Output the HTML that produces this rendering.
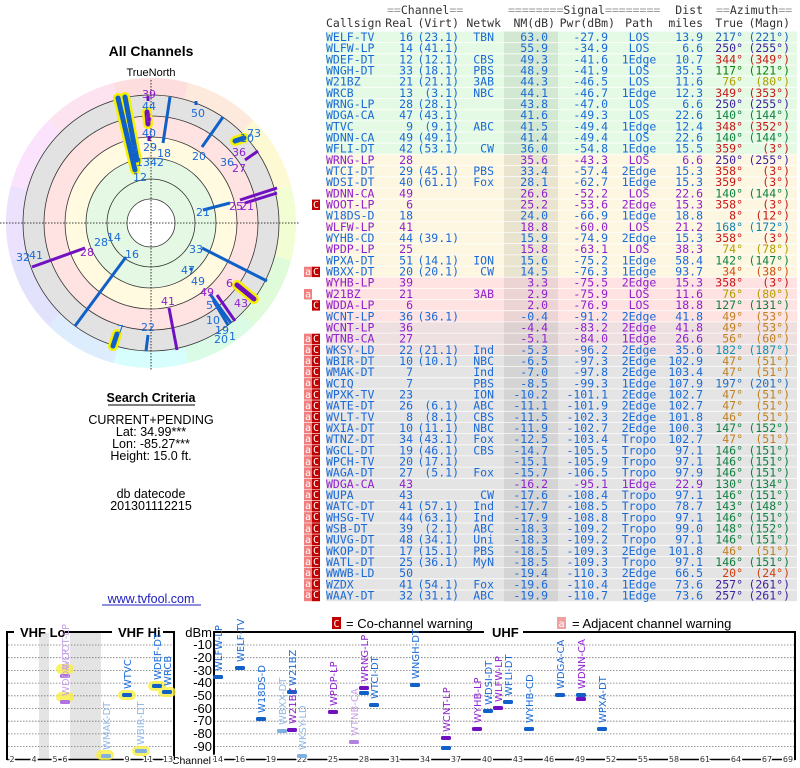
<!DOCTYPE html>
<html><head><meta charset="utf-8"><style>
html,body{margin:0;padding:0;background:#fff;width:800px;height:768px;overflow:hidden}
svg{display:block}
.t text{font-family:"DejaVu Sans Mono",monospace;font-size:11.5px}
.e{text-anchor:end}.m{text-anchor:middle}
.b{fill:#1a6ad8}.p{fill:#9020d0}
.s{font-family:"Liberation Sans",sans-serif}
.pl text{font-family:"DejaVu Sans",sans-serif;font-size:11px}
.bl text{font-family:"DejaVu Sans",sans-serif;font-size:10px}
.ax text{font-family:"Liberation Sans",sans-serif;font-size:13px;text-anchor:end;fill:#000}
.ch text{font-family:"DejaVu Sans",sans-serif;font-size:8px;text-anchor:middle;fill:#333;stroke:#fff;stroke-width:3px;paint-order:stroke}
</style></head><body>
<svg width="800" height="768" viewBox="0 0 800 768" xmlns="http://www.w3.org/2000/svg">
<!-- Left titles -->
<text x="151" y="56" class="s m" font-size="14" font-weight="bold">All Channels</text>
<text x="151" y="76" class="s m" font-size="11">TrueNorth</text>

<!-- Polar plot -->
<g>
<g fill="none" stroke-width="17" stroke-dasharray="71.5 786.2">
<circle cx="151" cy="223" r="136.5" stroke="hsl(0,90%,93%)" transform="rotate(-105 151 223)"/>
<circle cx="151" cy="223" r="136.5" stroke="hsl(25,90%,93%)" transform="rotate(-75 151 223)"/>
<circle cx="151" cy="223" r="136.5" stroke="hsl(55,90%,91%)" transform="rotate(-45 151 223)"/>
<circle cx="151" cy="223" r="136.5" stroke="hsl(75,90%,91%)" transform="rotate(-15 151 223)"/>
<circle cx="151" cy="223" r="136.5" stroke="hsl(110,80%,92%)" transform="rotate(15 151 223)"/>
<circle cx="151" cy="223" r="136.5" stroke="hsl(140,80%,92%)" transform="rotate(45 151 223)"/>
<circle cx="151" cy="223" r="136.5" stroke="hsl(180,90%,92%)" transform="rotate(75 151 223)"/>
<circle cx="151" cy="223" r="136.5" stroke="hsl(210,90%,93%)" transform="rotate(105 151 223)"/>
<circle cx="151" cy="223" r="136.5" stroke="hsl(240,90%,94%)" transform="rotate(135 151 223)"/>
<circle cx="151" cy="223" r="136.5" stroke="hsl(265,90%,94%)" transform="rotate(165 151 223)"/>
<circle cx="151" cy="223" r="136.5" stroke="hsl(295,90%,94%)" transform="rotate(195 151 223)"/>
<circle cx="151" cy="223" r="136.5" stroke="hsl(330,90%,94%)" transform="rotate(225 151 223)"/>
</g>
<circle cx="151" cy="223" r="128" fill="#e2e2e2" stroke="#333" stroke-width="0.8"/>
<circle cx="151" cy="223" r="107" fill="#ffe2e2" stroke="#333" stroke-width="0.8"/>
<circle cx="151" cy="223" r="86" fill="#fffae0" stroke="#333" stroke-width="0.8"/>
<circle cx="151" cy="223" r="65" fill="#e4f8e4" stroke="#333" stroke-width="0.8"/>
<circle cx="151" cy="223" r="44" fill="#e4f8e4" stroke="#333" stroke-width="0.8"/>
<circle cx="151" cy="223" r="24" fill="#fff" stroke="#333" stroke-width="0.8"/>
<line x1="0" y1="223" x2="300" y2="223" stroke="#000" stroke-width="0.8" stroke-dasharray="1.5 1.5"/>
<line x1="151" y1="80" x2="151" y2="370" stroke="#000" stroke-width="0.8" stroke-dasharray="1.5 1.5"/>
<!-- VHF thick -->
<g stroke="#f4f000" stroke-linecap="round" stroke-width="10">
<line x1="118" y1="98" x2="135" y2="170"/><line x1="125" y1="97" x2="137" y2="160"/>
<line x1="117" y1="334" x2="113" y2="346"/><line x1="237" y1="285" x2="254" y2="299"/>
<line x1="235" y1="141" x2="244" y2="138"/><line x1="147" y1="112" x2="148" y2="124"/>
</g>
<g stroke-linecap="round" stroke-width="5">
<line x1="118" y1="98" x2="135" y2="170" stroke="#1060c8"/><line x1="125" y1="97" x2="137" y2="160" stroke="#1060c8"/>
<line x1="117" y1="334" x2="113" y2="346" stroke="#1060c8"/><line x1="237" y1="285" x2="254" y2="299" stroke="#7010c0"/>
<line x1="235" y1="141" x2="244" y2="138" stroke="#1060c8"/><line x1="147" y1="112" x2="148" y2="124" stroke="#7010c0"/>
</g>
<g stroke-width="3">
<line x1="148" y1="96" x2="148" y2="101" stroke="#7010c0"/><line x1="149" y1="136" x2="149" y2="141" stroke="#7010c0"/>
<line x1="170" y1="97" x2="163" y2="143" stroke="#1060c8"/>
<line x1="223" y1="117" x2="202" y2="147" stroke="#1060c8"/>
<line x1="196" y1="101" x2="196" y2="105" stroke="#1060c8"/>
<line x1="258" y1="151" x2="245" y2="160" stroke="#7010c0"/>
<line x1="277" y1="188" x2="240" y2="200" stroke="#7010c0"/><line x1="277" y1="193" x2="245" y2="203" stroke="#7010c0"/>
<line x1="230" y1="203" x2="203" y2="210" stroke="#1060c8"/>
<line x1="267" y1="281" x2="202" y2="248" stroke="#1060c8"/>
<line x1="210" y1="294" x2="231" y2="323" stroke="#1060c8"/><line x1="217" y1="295" x2="235" y2="321" stroke="#7010c0"/>
<line x1="213" y1="300" x2="228" y2="325" stroke="#1060c8"/>
<line x1="169" y1="308" x2="177" y2="350" stroke="#7010c0"/>
<line x1="148" y1="335" x2="146" y2="351" stroke="#1060c8"/>
<line x1="126" y1="257" x2="75" y2="326" stroke="#1060c8"/>
<line x1="85" y1="248" x2="32" y2="267" stroke="#7010c0"/>
<line x1="190" y1="268" x2="192" y2="270" stroke="#1060c8"/>
</g>
<g class="pl">
<text x="142" y="98" fill="#9020d0">39</text><text x="142" y="110" fill="#1a6ad8">44</text>
<text x="145" y="122" fill="#9020d0">6</text><text x="142" y="137" fill="#1a6ad8">40</text>
<text x="143" y="151" fill="#1a6ad8">29</text><text x="131" y="153" fill="#1a6ad8">9</text>
<text x="136" y="166" fill="#1a6ad8">1342</text><text x="133" y="181" fill="#1a6ad8">12</text>
<text x="157" y="157" fill="#1a6ad8">18</text><text x="191" y="117" fill="#1a6ad8">50</text>
<text x="192" y="160" fill="#1a6ad8">20</text>
<text x="240" y="142" fill="#1a6ad8">10</text><text x="247" y="137" fill="#1a6ad8">73</text>
<text x="232" y="156" fill="#9020d0">36</text><text x="220" y="166" fill="#1a6ad8">36</text>
<text x="232" y="172" fill="#9020d0">27</text>
<text x="229" y="210" fill="#9020d0">25</text><text x="240" y="210" fill="#9020d0">21</text>
<text x="196" y="216" fill="#1a6ad8">21</text><text x="189" y="253" fill="#1a6ad8">33</text>
<text x="181" y="274" fill="#1a6ad8">47</text><text x="191" y="285" fill="#1a6ad8">49</text>
<text x="200" y="296" fill="#9020d0">49</text><text x="206" y="309" fill="#1a6ad8">51</text>
<text x="206" y="324" fill="#1a6ad8">10</text><text x="215" y="334" fill="#1a6ad8">19</text>
<text x="214" y="343" fill="#1a6ad8">20</text><text x="229" y="340" fill="#1a6ad8">1</text>
<text x="226" y="287" fill="#9020d0">6</text><text x="234" y="307" fill="#9020d0">43</text>
<text x="161" y="305" fill="#9020d0">41</text><text x="141" y="331" fill="#1a6ad8">22</text>
<text x="117" y="333" fill="#1a6ad8">7</text><text x="125" y="258" fill="#1a6ad8">16</text>
<text x="80" y="256" fill="#9020d0">28</text><text x="94" y="246" fill="#1a6ad8">28</text>
<text x="107" y="241" fill="#1a6ad8">14</text>
<text x="16" y="261" fill="#1a6ad8">32</text><text x="29" y="259" fill="#1a6ad8">41</text>
</g>
</g>

<!-- Search criteria -->
<g class="s" font-size="12.5" text-anchor="middle" fill="#000">
<text x="151" y="402" font-weight="bold">Search Criteria</text>
<line x1="108" y1="405" x2="195" y2="405" stroke="#000" stroke-width="1"/>
<text x="151" y="424">CURRENT+PENDING</text>
<text x="151" y="436">Lat: 34.99***</text>
<text x="151" y="448">Lon: -85.27***</text>
<text x="151" y="460">Height: 15.0 ft.</text>
<text x="151" y="498">db datecode</text>
<text x="151" y="510">201301112215</text>
<text x="151" y="603" fill="#2020c0">www.tvfool.com</text>
<line x1="102" y1="605" x2="201" y2="605" stroke="#2020c0" stroke-width="1"/>
</g>

<!-- Table backgrounds -->
<rect x="326" y="31.5" width="471" height="122.9" fill="#e4fae4"/>
<rect x="326" y="154.4" width="471" height="122.8" fill="#fdf7e2"/>
<rect x="326" y="277.2" width="471" height="44.7" fill="#ffe2e2"/>
<rect x="326" y="321.9" width="471" height="33.5" fill="#eee0e0"/>
<rect x="326" y="355.4" width="471" height="245.8" fill="#e4e4e4"/>
<rect x="504" y="31.5" width="54" height="122.9" fill="#d2e8d2"/>
<rect x="504" y="154.4" width="54" height="122.8" fill="#e8e4d0"/>
<rect x="504" y="277.2" width="54" height="44.7" fill="#ecd4d4"/>
<rect x="504" y="321.9" width="54" height="33.5" fill="#dcd0d0"/>
<rect x="504" y="355.4" width="54" height="245.8" fill="#d4d4d4"/>
<g stroke="#fff" stroke-width="0.8" opacity="0.9">
<path d="M326 42.7H797M326 53.8H797M326 65H797M326 76.2H797M326 87.3H797M326 98.5H797M326 109.7H797M326 120.9H797M326 132H797M326 143.2H797M326 154.4H797M326 165.5H797M326 176.7H797M326 187.9H797M326 199H797M326 210.2H797M326 221.4H797M326 232.6H797M326 243.7H797M326 254.9H797M326 266.1H797M326 277.2H797M326 288.4H797M326 299.6H797M326 310.7H797M326 321.9H797M326 333.1H797M326 344.3H797M326 355.4H797M326 366.6H797M326 377.8H797M326 388.9H797M326 400.1H797M326 411.3H797M326 422.4H797M326 433.6H797M326 444.8H797M326 455.9H797M326 467.1H797M326 478.3H797M326 489.5H797M326 500.6H797M326 511.8H797M326 523H797M326 534.1H797M326 545.3H797M326 556.5H797M326 567.6H797M326 578.8H797M326 590H797"/>
</g>

<!-- Badges -->
<g font-family="DejaVu Sans Mono,monospace" font-size="10" fill="#fff" text-anchor="middle">
<rect x="312" y="199.6" width="8" height="10.4" fill="#c00000"/><text x="316" y="208">C</text>
<rect x="304" y="266.7" width="8" height="10.4" fill="#f08080"/><text x="308" y="275">a</text>
<rect x="312" y="266.7" width="8" height="10.4" fill="#c00000"/><text x="316" y="275">C</text>
<rect x="304" y="289" width="8" height="10.4" fill="#f08080"/><text x="308" y="297.5">a</text>
<rect x="312" y="300.2" width="8" height="10.4" fill="#c00000"/><text x="316" y="308.7">C</text>
<rect x="304" y="333.7" width="8" height="267.5" fill="#f08080"/>
<rect x="312" y="333.7" width="8" height="267.5" fill="#c00000"/>
<g stroke="#fff" stroke-width="0.6"><path d="M304 344.3H320M304 355.4H320M304 366.6H320M304 377.8H320M304 388.9H320M304 400.1H320M304 411.3H320M304 422.4H320M304 433.6H320M304 444.8H320M304 455.9H320M304 467.1H320M304 478.3H320M304 489.5H320M304 500.6H320M304 511.8H320M304 523H320M304 534.1H320M304 545.3H320M304 556.5H320M304 567.6H320M304 578.8H320M304 590H320"/></g>
<text x="308" y="342">a</text><text x="316" y="342">C</text><text x="308" y="353">a</text><text x="316" y="353">C</text>
<text x="308" y="364">a</text><text x="316" y="364">C</text><text x="308" y="375">a</text><text x="316" y="375">C</text>
<text x="308" y="386">a</text><text x="316" y="386">C</text><text x="308" y="398">a</text><text x="316" y="398">C</text>
<text x="308" y="409">a</text><text x="316" y="409">C</text><text x="308" y="420">a</text><text x="316" y="420">C</text>
<text x="308" y="431">a</text><text x="316" y="431">C</text><text x="308" y="442">a</text><text x="316" y="442">C</text>
<text x="308" y="453">a</text><text x="316" y="453">C</text><text x="308" y="465">a</text><text x="316" y="465">C</text>
<text x="308" y="476">a</text><text x="316" y="476">C</text><text x="308" y="487">a</text><text x="316" y="487">C</text>
<text x="308" y="498">a</text><text x="316" y="498">C</text><text x="308" y="509">a</text><text x="316" y="509">C</text>
<text x="308" y="520">a</text><text x="316" y="520">C</text><text x="308" y="532">a</text><text x="316" y="532">C</text>
<text x="308" y="543">a</text><text x="316" y="543">C</text><text x="308" y="554">a</text><text x="316" y="554">C</text>
<text x="308" y="565">a</text><text x="316" y="565">C</text><text x="308" y="576">a</text><text x="316" y="576">C</text>
<text x="308" y="587">a</text><text x="316" y="587">C</text><text x="308" y="598">a</text><text x="316" y="598">C</text>
</g>

<!-- Table text -->
<g class="t">
<g fill="#333">
<text x="387" y="14" fill="#999">==<tspan fill="#333">Channel</tspan>==</text>
<text x="508" y="14" fill="#999">========<tspan fill="#333">Signal</tspan>========</text>
<text x="703" y="14" class="e">Dist</text>
<text x="716" y="14" fill="#999">==<tspan fill="#333">Azimuth</tspan>==</text>
<text x="326" y="27">Callsign</text><text x="413" y="27" class="e">Real</text><text x="459" y="27" class="e">(Virt)</text>
<text x="501" y="27" class="e">Netwk</text><text x="555" y="27" class="e">NM(dB)</text><text x="615" y="27" class="e">Pwr(dBm)</text>
<text x="639" y="27" class="m">Path</text><text x="703" y="27" class="e">miles</text><text x="743" y="27" class="e">True</text><text x="790" y="27" class="e">(Magn)</text>
</g>
<g transform="translate(0,41)" class="b"><text x="326">WELF-TV</text><text x="413" class="e">16</text><text x="459" class="e">(23.1)</text><text x="494" class="e">TBN</text><text x="548" class="e">63.0</text><text x="608" class="e">-27.9</text><text x="639" class="m">LOS</text><text x="703" class="e">13.9</text><text x="743" class="e" fill="#2060c0">217°</text><text x="790" class="e" fill="#2060c0">(221°)</text></g>
<g transform="translate(0,52.2)" class="b"><text x="326">WLFW-LP</text><text x="413" class="e">14</text><text x="459" class="e">(41.1)</text><text x="548" class="e">55.9</text><text x="608" class="e">-34.9</text><text x="639" class="m">LOS</text><text x="703" class="e">6.6</text><text x="743" class="e" fill="#4020a0">250°</text><text x="790" class="e" fill="#4020a0">(255°)</text></g>
<g transform="translate(0,63.3)" class="b"><text x="326">WDEF-DT</text><text x="413" class="e">12</text><text x="459" class="e">(12.1)</text><text x="494" class="e">CBS</text><text x="548" class="e">49.3</text><text x="608" class="e">-41.6</text><text x="639" class="m">1Edge</text><text x="703" class="e">10.7</text><text x="743" class="e" fill="#c81818">344°</text><text x="790" class="e" fill="#c81818">(349°)</text></g>
<g transform="translate(0,74.5)" class="b"><text x="326">WNGH-DT</text><text x="413" class="e">33</text><text x="459" class="e">(18.1)</text><text x="494" class="e">PBS</text><text x="548" class="e">48.9</text><text x="608" class="e">-41.9</text><text x="639" class="m">LOS</text><text x="703" class="e">35.5</text><text x="743" class="e" fill="#108010">117°</text><text x="790" class="e" fill="#108010">(121°)</text></g>
<g transform="translate(0,85.7)" class="b"><text x="326">W21BZ</text><text x="413" class="e">21</text><text x="459" class="e">(21.1)</text><text x="494" class="e">3AB</text><text x="548" class="e">44.3</text><text x="608" class="e">-46.5</text><text x="639" class="m">LOS</text><text x="703" class="e">11.6</text><text x="743" class="e" fill="#b0a000">76°</text><text x="790" class="e" fill="#b0a000">(80°)</text></g>
<g transform="translate(0,96.9)" class="b"><text x="326">WRCB</text><text x="413" class="e">13</text><text x="459" class="e">(3.1)</text><text x="494" class="e">NBC</text><text x="548" class="e">44.1</text><text x="608" class="e">-46.7</text><text x="639" class="m">1Edge</text><text x="703" class="e">12.3</text><text x="743" class="e" fill="#c81818">349°</text><text x="790" class="e" fill="#c81818">(353°)</text></g>
<g transform="translate(0,108)" class="b"><text x="326">WRNG-LP</text><text x="413" class="e">28</text><text x="459" class="e">(28.1)</text><text x="548" class="e">43.8</text><text x="608" class="e">-47.0</text><text x="639" class="m">LOS</text><text x="703" class="e">6.6</text><text x="743" class="e" fill="#4020a0">250°</text><text x="790" class="e" fill="#4020a0">(255°)</text></g>
<g transform="translate(0,119.2)" class="b"><text x="326">WDGA-CA</text><text x="413" class="e">47</text><text x="459" class="e">(43.1)</text><text x="548" class="e">41.6</text><text x="608" class="e">-49.3</text><text x="639" class="m">LOS</text><text x="703" class="e">22.6</text><text x="743" class="e" fill="#108040">140°</text><text x="790" class="e" fill="#108040">(144°)</text></g>
<g transform="translate(0,130.4)" class="b"><text x="326">WTVC</text><text x="413" class="e">9</text><text x="459" class="e">(9.1)</text><text x="494" class="e">ABC</text><text x="548" class="e">41.5</text><text x="608" class="e">-49.4</text><text x="639" class="m">1Edge</text><text x="703" class="e">12.4</text><text x="743" class="e" fill="#c81818">348°</text><text x="790" class="e" fill="#c81818">(352°)</text></g>
<g transform="translate(0,141.5)" class="b"><text x="326">WDNN-CA</text><text x="413" class="e">49</text><text x="459" class="e">(49.1)</text><text x="548" class="e">41.4</text><text x="608" class="e">-49.4</text><text x="639" class="m">LOS</text><text x="703" class="e">22.6</text><text x="743" class="e" fill="#108040">140°</text><text x="790" class="e" fill="#108040">(144°)</text></g>
<g transform="translate(0,152.7)" class="b"><text x="326">WFLI-DT</text><text x="413" class="e">42</text><text x="459" class="e">(53.1)</text><text x="494" class="e">CW</text><text x="548" class="e">36.0</text><text x="608" class="e">-54.8</text><text x="639" class="m">1Edge</text><text x="703" class="e">15.5</text><text x="743" class="e" fill="#c81818">359°</text><text x="790" class="e" fill="#c81818">(3°)</text></g>
<g transform="translate(0,163.9)" class="p"><text x="326">WRNG-LP</text><text x="413" class="e">28</text><text x="548" class="e">35.6</text><text x="608" class="e">-43.3</text><text x="639" class="m">LOS</text><text x="703" class="e">6.6</text><text x="743" class="e" fill="#4020a0">250°</text><text x="790" class="e" fill="#4020a0">(255°)</text></g>
<g transform="translate(0,175)" class="b"><text x="326">WTCI-DT</text><text x="413" class="e">29</text><text x="459" class="e">(45.1)</text><text x="494" class="e">PBS</text><text x="548" class="e">33.4</text><text x="608" class="e">-57.4</text><text x="639" class="m">2Edge</text><text x="703" class="e">15.3</text><text x="743" class="e" fill="#c81818">358°</text><text x="790" class="e" fill="#c81818">(3°)</text></g>
<g transform="translate(0,186.2)" class="b"><text x="326">WDSI-DT</text><text x="413" class="e">40</text><text x="459" class="e">(61.1)</text><text x="494" class="e">Fox</text><text x="548" class="e">28.1</text><text x="608" class="e">-62.7</text><text x="639" class="m">1Edge</text><text x="703" class="e">15.3</text><text x="743" class="e" fill="#c81818">359°</text><text x="790" class="e" fill="#c81818">(3°)</text></g>
<g transform="translate(0,197.4)" class="p"><text x="326">WDNN-CA</text><text x="413" class="e">49</text><text x="548" class="e">26.6</text><text x="608" class="e">-52.2</text><text x="639" class="m">LOS</text><text x="703" class="e">22.6</text><text x="743" class="e" fill="#108040">140°</text><text x="790" class="e" fill="#108040">(144°)</text></g>
<g transform="translate(0,208.6)" class="p"><text x="326">WOOT-LP</text><text x="413" class="e">6</text><text x="548" class="e">25.2</text><text x="608" class="e">-53.6</text><text x="639" class="m">2Edge</text><text x="703" class="e">15.3</text><text x="743" class="e" fill="#c81818">358°</text><text x="790" class="e" fill="#c81818">(3°)</text></g>
<g transform="translate(0,219.7)" class="b"><text x="326">W18DS-D</text><text x="413" class="e">18</text><text x="548" class="e">24.0</text><text x="608" class="e">-66.9</text><text x="639" class="m">1Edge</text><text x="703" class="e">18.8</text><text x="743" class="e" fill="#c81818">8°</text><text x="790" class="e" fill="#c81818">(12°)</text></g>
<g transform="translate(0,230.9)" class="p"><text x="326">WLFW-LP</text><text x="413" class="e">41</text><text x="548" class="e">18.8</text><text x="608" class="e">-60.0</text><text x="639" class="m">LOS</text><text x="703" class="e">21.2</text><text x="743" class="e" fill="#1080b0">168°</text><text x="790" class="e" fill="#1080b0">(172°)</text></g>
<g transform="translate(0,242.1)" class="b"><text x="326">WYHB-CD</text><text x="413" class="e">44</text><text x="459" class="e">(39.1)</text><text x="548" class="e">15.9</text><text x="608" class="e">-74.9</text><text x="639" class="m">2Edge</text><text x="703" class="e">15.3</text><text x="743" class="e" fill="#c81818">358°</text><text x="790" class="e" fill="#c81818">(3°)</text></g>
<g transform="translate(0,253.2)" class="p"><text x="326">WPDP-LP</text><text x="413" class="e">25</text><text x="548" class="e">15.8</text><text x="608" class="e">-63.1</text><text x="639" class="m">LOS</text><text x="703" class="e">38.3</text><text x="743" class="e" fill="#b0a000">74°</text><text x="790" class="e" fill="#b0a000">(78°)</text></g>
<g transform="translate(0,264.4)" class="b"><text x="326">WPXA-DT</text><text x="413" class="e">51</text><text x="459" class="e">(14.1)</text><text x="494" class="e">ION</text><text x="548" class="e">15.6</text><text x="608" class="e">-75.2</text><text x="639" class="m">1Edge</text><text x="703" class="e">58.4</text><text x="743" class="e" fill="#108040">142°</text><text x="790" class="e" fill="#108040">(147°)</text></g>
<g transform="translate(0,275.6)" class="b"><text x="326">WBXX-DT</text><text x="413" class="e">20</text><text x="459" class="e">(20.1)</text><text x="494" class="e">CW</text><text x="548" class="e">14.5</text><text x="608" class="e">-76.3</text><text x="639" class="m">1Edge</text><text x="703" class="e">93.7</text><text x="743" class="e" fill="#d05010">34°</text><text x="790" class="e" fill="#d05010">(38°)</text></g>
<g transform="translate(0,286.7)" class="p"><text x="326">WYHB-LP</text><text x="413" class="e">39</text><text x="548" class="e">3.3</text><text x="608" class="e">-75.5</text><text x="639" class="m">2Edge</text><text x="703" class="e">15.3</text><text x="743" class="e" fill="#c81818">358°</text><text x="790" class="e" fill="#c81818">(3°)</text></g>
<g transform="translate(0,297.9)" class="p"><text x="326">W21BZ</text><text x="413" class="e">21</text><text x="494" class="e">3AB</text><text x="548" class="e">2.9</text><text x="608" class="e">-75.9</text><text x="639" class="m">LOS</text><text x="703" class="e">11.6</text><text x="743" class="e" fill="#b0a000">76°</text><text x="790" class="e" fill="#b0a000">(80°)</text></g>
<g transform="translate(0,309.1)" class="p"><text x="326">WDDA-LP</text><text x="413" class="e">6</text><text x="548" class="e">2.0</text><text x="608" class="e">-76.9</text><text x="639" class="m">LOS</text><text x="703" class="e">18.8</text><text x="743" class="e" fill="#108040">127°</text><text x="790" class="e" fill="#108040">(131°)</text></g>
<g transform="translate(0,320.3)" class="b"><text x="326">WCNT-LP</text><text x="413" class="e">36</text><text x="459" class="e">(36.1)</text><text x="548" class="e">-0.4</text><text x="608" class="e">-91.2</text><text x="639" class="m">2Edge</text><text x="703" class="e">41.8</text><text x="743" class="e" fill="#c08020">49°</text><text x="790" class="e" fill="#c08020">(53°)</text></g>
<g transform="translate(0,331.4)" class="p"><text x="326">WCNT-LP</text><text x="413" class="e">36</text><text x="548" class="e">-4.4</text><text x="608" class="e">-83.2</text><text x="639" class="m">2Edge</text><text x="703" class="e">41.8</text><text x="743" class="e" fill="#c08020">49°</text><text x="790" class="e" fill="#c08020">(53°)</text></g>
<g transform="translate(0,342.6)" class="p"><text x="326">WTNB-CA</text><text x="413" class="e">27</text><text x="548" class="e">-5.1</text><text x="608" class="e">-84.0</text><text x="639" class="m">1Edge</text><text x="703" class="e">26.6</text><text x="743" class="e" fill="#c08020">56°</text><text x="790" class="e" fill="#c08020">(60°)</text></g>
<g transform="translate(0,353.8)" class="b"><text x="326">WKSY-LD</text><text x="413" class="e">22</text><text x="459" class="e">(21.1)</text><text x="494" class="e">Ind</text><text x="548" class="e">-5.3</text><text x="608" class="e">-96.2</text><text x="639" class="m">2Edge</text><text x="703" class="e">35.6</text><text x="743" class="e" fill="#1090b0">182°</text><text x="790" class="e" fill="#1090b0">(187°)</text></g>
<g transform="translate(0,364.9)" class="b"><text x="326">WBIR-DT</text><text x="413" class="e">10</text><text x="459" class="e">(10.1)</text><text x="494" class="e">NBC</text><text x="548" class="e">-6.5</text><text x="608" class="e">-97.3</text><text x="639" class="m">2Edge</text><text x="703" class="e">102.9</text><text x="743" class="e" fill="#c08020">47°</text><text x="790" class="e" fill="#c08020">(51°)</text></g>
<g transform="translate(0,376.1)" class="b"><text x="326">WMAK-DT</text><text x="413" class="e">7</text><text x="494" class="e">Ind</text><text x="548" class="e">-7.0</text><text x="608" class="e">-97.8</text><text x="639" class="m">2Edge</text><text x="703" class="e">103.4</text><text x="743" class="e" fill="#c08020">47°</text><text x="790" class="e" fill="#c08020">(51°)</text></g>
<g transform="translate(0,387.3)" class="b"><text x="326">WCIQ</text><text x="413" class="e">7</text><text x="494" class="e">PBS</text><text x="548" class="e">-8.5</text><text x="608" class="e">-99.3</text><text x="639" class="m">1Edge</text><text x="703" class="e">107.9</text><text x="743" class="e" fill="#2070c0">197°</text><text x="790" class="e" fill="#2070c0">(201°)</text></g>
<g transform="translate(0,398.4)" class="b"><text x="326">WPXK-TV</text><text x="413" class="e">23</text><text x="494" class="e">ION</text><text x="548" class="e">-10.2</text><text x="608" class="e">-101.1</text><text x="639" class="m">2Edge</text><text x="703" class="e">102.7</text><text x="743" class="e" fill="#c08020">47°</text><text x="790" class="e" fill="#c08020">(51°)</text></g>
<g transform="translate(0,409.6)" class="b"><text x="326">WATE-DT</text><text x="413" class="e">26</text><text x="459" class="e">(6.1)</text><text x="494" class="e">ABC</text><text x="548" class="e">-11.1</text><text x="608" class="e">-101.9</text><text x="639" class="m">2Edge</text><text x="703" class="e">102.7</text><text x="743" class="e" fill="#c08020">47°</text><text x="790" class="e" fill="#c08020">(51°)</text></g>
<g transform="translate(0,420.8)" class="b"><text x="326">WVLT-TV</text><text x="413" class="e">8</text><text x="459" class="e">(8.1)</text><text x="494" class="e">CBS</text><text x="548" class="e">-11.5</text><text x="608" class="e">-102.3</text><text x="639" class="m">2Edge</text><text x="703" class="e">101.8</text><text x="743" class="e" fill="#c08020">46°</text><text x="790" class="e" fill="#c08020">(51°)</text></g>
<g transform="translate(0,432)" class="b"><text x="326">WXIA-DT</text><text x="413" class="e">10</text><text x="459" class="e">(11.1)</text><text x="494" class="e">NBC</text><text x="548" class="e">-11.9</text><text x="608" class="e">-102.7</text><text x="639" class="m">2Edge</text><text x="703" class="e">100.3</text><text x="743" class="e" fill="#108040">147°</text><text x="790" class="e" fill="#108040">(152°)</text></g>
<g transform="translate(0,443.1)" class="b"><text x="326">WTNZ-DT</text><text x="413" class="e">34</text><text x="459" class="e">(43.1)</text><text x="494" class="e">Fox</text><text x="548" class="e">-12.5</text><text x="608" class="e">-103.4</text><text x="639" class="m">Tropo</text><text x="703" class="e">102.7</text><text x="743" class="e" fill="#c08020">47°</text><text x="790" class="e" fill="#c08020">(51°)</text></g>
<g transform="translate(0,454.3)" class="b"><text x="326">WGCL-DT</text><text x="413" class="e">19</text><text x="459" class="e">(46.1)</text><text x="494" class="e">CBS</text><text x="548" class="e">-14.7</text><text x="608" class="e">-105.5</text><text x="639" class="m">Tropo</text><text x="703" class="e">97.1</text><text x="743" class="e" fill="#108040">146°</text><text x="790" class="e" fill="#108040">(151°)</text></g>
<g transform="translate(0,465.5)" class="b"><text x="326">WPCH-TV</text><text x="413" class="e">20</text><text x="459" class="e">(17.1)</text><text x="548" class="e">-15.1</text><text x="608" class="e">-105.9</text><text x="639" class="m">Tropo</text><text x="703" class="e">97.1</text><text x="743" class="e" fill="#108040">146°</text><text x="790" class="e" fill="#108040">(151°)</text></g>
<g transform="translate(0,476.6)" class="b"><text x="326">WAGA-DT</text><text x="413" class="e">27</text><text x="459" class="e">(5.1)</text><text x="494" class="e">Fox</text><text x="548" class="e">-15.7</text><text x="608" class="e">-106.5</text><text x="639" class="m">Tropo</text><text x="703" class="e">97.9</text><text x="743" class="e" fill="#108040">146°</text><text x="790" class="e" fill="#108040">(151°)</text></g>
<g transform="translate(0,487.8)" class="p"><text x="326">WDGA-CA</text><text x="413" class="e">43</text><text x="548" class="e">-16.2</text><text x="608" class="e">-95.1</text><text x="639" class="m">1Edge</text><text x="703" class="e">22.9</text><text x="743" class="e" fill="#108040">130°</text><text x="790" class="e" fill="#108040">(134°)</text></g>
<g transform="translate(0,499)" class="b"><text x="326">WUPA</text><text x="413" class="e">43</text><text x="494" class="e">CW</text><text x="548" class="e">-17.6</text><text x="608" class="e">-108.4</text><text x="639" class="m">Tropo</text><text x="703" class="e">97.1</text><text x="743" class="e" fill="#108040">146°</text><text x="790" class="e" fill="#108040">(151°)</text></g>
<g transform="translate(0,510.1)" class="b"><text x="326">WATC-DT</text><text x="413" class="e">41</text><text x="459" class="e">(57.1)</text><text x="494" class="e">Ind</text><text x="548" class="e">-17.7</text><text x="608" class="e">-108.5</text><text x="639" class="m">Tropo</text><text x="703" class="e">78.7</text><text x="743" class="e" fill="#108040">143°</text><text x="790" class="e" fill="#108040">(148°)</text></g>
<g transform="translate(0,521.3)" class="b"><text x="326">WHSG-TV</text><text x="413" class="e">44</text><text x="459" class="e">(63.1)</text><text x="494" class="e">Ind</text><text x="548" class="e">-17.9</text><text x="608" class="e">-108.8</text><text x="639" class="m">Tropo</text><text x="703" class="e">97.1</text><text x="743" class="e" fill="#108040">146°</text><text x="790" class="e" fill="#108040">(151°)</text></g>
<g transform="translate(0,532.5)" class="b"><text x="326">WSB-DT</text><text x="413" class="e">39</text><text x="459" class="e">(2.1)</text><text x="494" class="e">ABC</text><text x="548" class="e">-18.3</text><text x="608" class="e">-109.2</text><text x="639" class="m">Tropo</text><text x="703" class="e">99.0</text><text x="743" class="e" fill="#108040">148°</text><text x="790" class="e" fill="#108040">(152°)</text></g>
<g transform="translate(0,543.7)" class="b"><text x="326">WUVG-DT</text><text x="413" class="e">48</text><text x="459" class="e">(34.1)</text><text x="494" class="e">Uni</text><text x="548" class="e">-18.3</text><text x="608" class="e">-109.2</text><text x="639" class="m">Tropo</text><text x="703" class="e">97.1</text><text x="743" class="e" fill="#108040">146°</text><text x="790" class="e" fill="#108040">(151°)</text></g>
<g transform="translate(0,554.8)" class="b"><text x="326">WKOP-DT</text><text x="413" class="e">17</text><text x="459" class="e">(15.1)</text><text x="494" class="e">PBS</text><text x="548" class="e">-18.5</text><text x="608" class="e">-109.3</text><text x="639" class="m">2Edge</text><text x="703" class="e">101.8</text><text x="743" class="e" fill="#c08020">46°</text><text x="790" class="e" fill="#c08020">(51°)</text></g>
<g transform="translate(0,566)" class="b"><text x="326">WATL-DT</text><text x="413" class="e">25</text><text x="459" class="e">(36.1)</text><text x="494" class="e">MyN</text><text x="548" class="e">-18.5</text><text x="608" class="e">-109.3</text><text x="639" class="m">Tropo</text><text x="703" class="e">97.1</text><text x="743" class="e" fill="#108040">146°</text><text x="790" class="e" fill="#108040">(151°)</text></g>
<g transform="translate(0,577.2)" class="b"><text x="326">WWWB-LD</text><text x="413" class="e">50</text><text x="548" class="e">-19.4</text><text x="608" class="e">-110.3</text><text x="639" class="m">2Edge</text><text x="703" class="e">66.5</text><text x="743" class="e" fill="#d04010">20°</text><text x="790" class="e" fill="#d04010">(24°)</text></g>
<g transform="translate(0,588.3)" class="b"><text x="326">WZDX</text><text x="413" class="e">41</text><text x="459" class="e">(54.1)</text><text x="494" class="e">Fox</text><text x="548" class="e">-19.6</text><text x="608" class="e">-110.4</text><text x="639" class="m">1Edge</text><text x="703" class="e">73.6</text><text x="743" class="e" fill="#4020a0">257°</text><text x="790" class="e" fill="#4020a0">(261°)</text></g>
<g transform="translate(0,599.5)" class="b"><text x="326">WAAY-DT</text><text x="413" class="e">32</text><text x="459" class="e">(31.1)</text><text x="494" class="e">ABC</text><text x="548" class="e">-19.9</text><text x="608" class="e">-110.7</text><text x="639" class="m">1Edge</text><text x="703" class="e">73.6</text><text x="743" class="e" fill="#4020a0">257°</text><text x="790" class="e" fill="#4020a0">(261°)</text></g>
</g>

<!-- Bottom chart -->
<g class="s">
<rect x="332" y="617" width="9" height="12" fill="#c00000"/><text x="336.5" y="627" font-size="10" fill="#fff" text-anchor="middle" font-family="DejaVu Sans Mono,monospace">C</text>
<text x="346" y="628" font-size="13">= Co-channel warning</text>
<rect x="557" y="617" width="9" height="12" fill="#f0a0a0"/><text x="561.5" y="627" font-size="10" fill="#fff" text-anchor="middle" font-family="DejaVu Sans Mono,monospace">a</text>
<text x="572" y="628" font-size="13">= Adjacent channel warning</text>
</g>
<rect x="39" y="633" width="10" height="126" fill="#e4e4e4"/>
<rect x="70" y="633" width="31" height="126" fill="#e4e4e4"/>
<g stroke="#777" stroke-width="0.8" stroke-dasharray="1.5 1.5">
<path d="M8 645H173M8 657.7H173M8 670.4H173M8 683.1H173M8 695.8H173M8 708.5H173M8 721.2H173M8 733.9H173M8 746.6H173"/>
<path d="M214 645H794M214 657.7H794M214 670.4H794M214 683.1H794M214 695.8H794M214 708.5H794M214 721.2H794M214 733.9H794M214 746.6H794"/>
</g>
<g stroke="#000" fill="none">
<path d="M7 760V632H14M65 632H112M163 632H174V760" stroke-width="2"/>
<path d="M214 760V632H484M523 632H795V760" stroke-width="2"/>
<path d="M7 759.5H174M214 759.5H795" stroke-width="1.5"/>
</g>
<g class="s" font-weight="bold" font-size="13" fill="#000">
<text x="20" y="637">VHF Lo</text><text x="118" y="637">VHF Hi</text><text x="492" y="637">UHF</text>
</g>
<g class="ax">
<text x="212" y="637">dBm</text>
<text x="212" y="649">-10</text><text x="212" y="662">-20</text><text x="212" y="675">-30</text>
<text x="212" y="687">-40</text><text x="212" y="700">-50</text><text x="212" y="713">-60</text>
<text x="212" y="725">-70</text><text x="212" y="738">-80</text><text x="212" y="751">-90</text>
<text x="211" y="764" style="font-size:10.5px">Channel</text>
</g>
<g class="ch">
<text x="12" y="762">2</text><text x="34" y="762">4</text><text x="55" y="762">5</text><text x="65" y="762">6</text>
<text x="127" y="762">9</text><text x="148" y="762">11</text><text x="168" y="762">13</text>
<text x="218" y="762">14</text><text x="240" y="762">16</text><text x="271" y="762">19</text><text x="302" y="762">22</text>
<text x="333" y="762">25</text><text x="364" y="762">28</text><text x="395" y="762">31</text><text x="425" y="762">34</text>
<text x="456" y="762">37</text><text x="487" y="762">40</text><text x="518" y="762">43</text><text x="549" y="762">46</text>
<text x="580" y="762">49</text><text x="611" y="762">52</text><text x="643" y="762">55</text><text x="674" y="762">58</text>
<text x="705" y="762">61</text><text x="736" y="762">64</text><text x="767" y="762">67</text><text x="788" y="762">69</text>
</g>
<g fill="#f8f040" opacity="0.8">
<rect x="56" y="664" width="18" height="10" rx="5"/><rect x="56" y="692" width="18" height="10" rx="5"/>
<rect x="96" y="750" width="18" height="10" rx="5"/><rect x="118" y="690" width="18" height="10" rx="5"/>
<rect x="132" y="746" width="18" height="10" rx="5"/><rect x="148" y="681" width="18" height="10" rx="5"/>
<rect x="158" y="687" width="18" height="10" rx="5"/>
</g>
<g>
<rect x="60" y="700" width="10" height="4" rx="1.5" fill="#b070e0"/>
<rect x="60" y="674" width="10" height="4" rx="1.5" fill="#b070e0"/>
<rect x="101" y="754" width="10" height="4" rx="1.5" fill="#80b0e0"/>
<rect x="122" y="693" width="10" height="4" rx="1.5" fill="#1060c8"/>
<rect x="135" y="749" width="12" height="4" rx="1.5" fill="#80b0e0"/>
<rect x="152" y="684" width="10" height="4" rx="1.5" fill="#1060c8"/>
<rect x="162" y="690" width="10" height="4" rx="1.5" fill="#1060c8"/>
<rect x="213" y="675" width="10" height="4" rx="1.5" fill="#1060c8"/>
<rect x="235" y="666" width="10" height="4" rx="1.5" fill="#1060c8"/>
<rect x="256" y="717" width="10" height="4" rx="1.5" fill="#1060c8"/>
<rect x="277" y="729" width="10" height="4" rx="1.5" fill="#80b0e0"/>
<rect x="287" y="690" width="10" height="4" rx="1.5" fill="#1060c8"/>
<rect x="287" y="728" width="10" height="4" rx="1.5" fill="#7010c0"/>
<rect x="297" y="754" width="10" height="4" rx="1.5" fill="#80b0e0"/>
<rect x="328" y="710" width="10" height="4" rx="1.5" fill="#7010c0"/>
<rect x="349" y="740" width="10" height="4" rx="1.5" fill="#b080e0"/>
<rect x="359" y="691" width="10" height="4" rx="1.5" fill="#1060c8"/>
<rect x="359" y="686" width="10" height="4" rx="1.5" fill="#7010c0"/>
<rect x="369" y="703" width="10" height="4" rx="1.5" fill="#1060c8"/>
<rect x="410" y="683" width="10" height="4" rx="1.5" fill="#1060c8"/>
<rect x="441" y="746" width="10" height="4" rx="1.5" fill="#1060c8"/>
<rect x="441" y="736" width="10" height="4" rx="1.5" fill="#7010c0"/>
<rect x="472" y="727" width="10" height="4" rx="1.5" fill="#7010c0"/>
<rect x="483" y="709" width="10" height="4" rx="1.5" fill="#1060c8"/>
<rect x="493" y="706" width="10" height="4" rx="1.5" fill="#7010c0"/>
<rect x="503" y="700" width="10" height="4" rx="1.5" fill="#1060c8"/>
<rect x="524" y="727" width="10" height="4" rx="1.5" fill="#1060c8"/>
<rect x="555" y="693" width="10" height="4" rx="1.5" fill="#1060c8"/>
<rect x="576" y="693" width="10" height="4" rx="1.5" fill="#1060c8"/>
<rect x="576" y="697" width="10" height="4" rx="1.5" fill="#7010c0"/>
<rect x="597" y="727" width="10" height="4" rx="1.5" fill="#1060c8"/>
</g>
<g class="bl">
<text transform="translate(69,696) rotate(-90)" fill="#c8a0e8">WDDA-LP</text>
<text transform="translate(69,670) rotate(-90)" fill="#c8a0e8">WOOT-LP</text>
<text transform="translate(110,750) rotate(-90)" fill="#90b8e8">WMAK-DT</text>
<text transform="translate(131,689) rotate(-90)" fill="#1a6ad8">WTVC</text>
<text transform="translate(144,745) rotate(-90)" fill="#90b8e8">WBIR-DT</text>
<text transform="translate(161,680) rotate(-90)" fill="#1a6ad8">WDEF-DT</text>
<text transform="translate(171,686) rotate(-90)" fill="#1a6ad8">WRCB</text>
<text transform="translate(222,671) rotate(-90)" fill="#1a6ad8">WLFW-LP</text>
<text transform="translate(244,662) rotate(-90)" fill="#1a6ad8">WELF-TV</text>
<text transform="translate(265,713) rotate(-90)" fill="#1a6ad8">W18DS-D</text>
<text transform="translate(286,725) rotate(-90)" fill="#90b8e8">WBXX-DT</text>
<text transform="translate(296,686) rotate(-90)" fill="#1a6ad8">W21BZ</text>
<text transform="translate(296,724) rotate(-90)" fill="#9020d0">W21BZ</text>
<text transform="translate(306,750) rotate(-90)" fill="#90b8e8">WKSY-LD</text>
<text transform="translate(337,706) rotate(-90)" fill="#9020d0">WPDP-LP</text>
<text transform="translate(358,736) rotate(-90)" fill="#c8a0e8">WTNB-CA</text>
<text transform="translate(368,682) rotate(-90)" fill="#9020d0">WRNG-LP</text>
<text transform="translate(378,699) rotate(-90)" fill="#1a6ad8">WTCI-DT</text>
<text transform="translate(419,679) rotate(-90)" fill="#1a6ad8">WNGH-DT</text>
<text transform="translate(450,732) rotate(-90)" fill="#9020d0">WCNT-LP</text>
<text transform="translate(481,723) rotate(-90)" fill="#9020d0">WYHB-LP</text>
<text transform="translate(492,705) rotate(-90)" fill="#1a6ad8">WDSI-DT</text>
<text transform="translate(502,702) rotate(-90)" fill="#9020d0">WLFW-LP</text>
<text transform="translate(512,696) rotate(-90)" fill="#1a6ad8">WFLI-DT</text>
<text transform="translate(533,723) rotate(-90)" fill="#1a6ad8">WYHB-CD</text>
<text transform="translate(564,689) rotate(-90)" fill="#1a6ad8">WDGA-CA</text>
<text transform="translate(585,689) rotate(-90)" fill="#9020d0">WDNN-CA</text>
<text transform="translate(606,723) rotate(-90)" fill="#1a6ad8">WPXA-DT</text>
</g>
</svg>
</body></html>
